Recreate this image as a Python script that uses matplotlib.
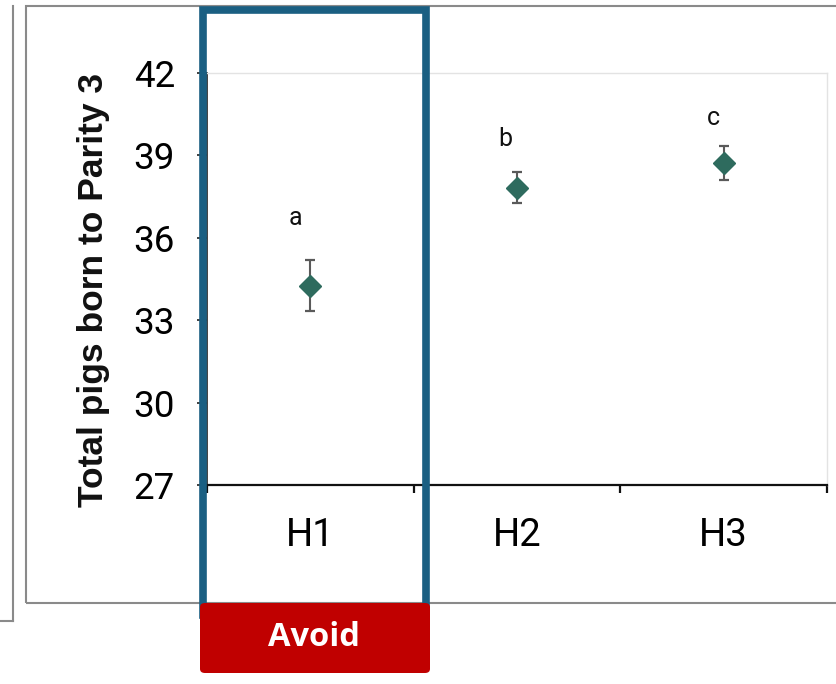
import matplotlib
matplotlib.use("Agg")
import matplotlib.pyplot as plt
from matplotlib.patches import Rectangle, FancyBboxPatch
from matplotlib.lines import Line2D

# ---- data ----
categories = ["H1", "H2", "H3"]
means = [34.25, 37.82, 38.72]
errors = [0.93, 0.57, 0.62]
letters = ["a", "b", "c"]
y_ticks = [27, 30, 33, 36, 39, 42]
y_label = "Total pigs born to Parity 3"
badge_text = "Avoid"

W, H = 837, 684
fig = plt.figure(figsize=(W / 100, H / 100), dpi=100)
fig.patch.set_facecolor("white")

def fx(px):
    return px / W

def fy(py):
    return 1 - py / H

# axes placement (pixels): x 207..827, y 73..485
ax = fig.add_axes([fx(207), fy(485), fx(827) - fx(207), fy(73) - fy(485)])
ax.set_xlim(0.5, 3.5)
ax.set_ylim(27, 42)

xs = list(range(1, len(categories) + 1))
ax.errorbar(xs, means, yerr=errors, fmt="none", ecolor="#5a5a5a",
            elinewidth=1.5, capsize=3.3, capthick=1.6, zorder=3)
ax.plot(xs, means, linestyle="none", marker="D", markersize=10.7,
        color="#2e6b5e", markeredgecolor="#2e6b5e", zorder=4)

# significance letters (manual offsets above each point)
letter_dx = [-0.07, -0.055, -0.05]
letter_dy = [1.28, 0.94, 0.76]
for x, m, e, lt, dx, dy in zip(xs, means, errors, letters, letter_dx, letter_dy):
    ax.text(x + dx, m + e + dy, lt, ha="center", va="baseline",
            fontsize=18, family="Roboto", color="#111111", zorder=5)

# spines
for s in ["top", "right"]:
    ax.spines[s].set_color("#e3e3e3")
    ax.spines[s].set_linewidth(1.0)
ax.spines["left"].set_color("#222222")
ax.spines["left"].set_linewidth(1.2)
ax.spines["bottom"].set_color("#111111")
ax.spines["bottom"].set_linewidth(1.6)

ax.set_yticks(y_ticks)
ax.set_yticklabels([str(t) for t in y_ticks], family="Roboto", fontsize=26.5)
ax.tick_params(axis="y", direction="out", length=7, width=1.2, color="#222222", pad=16)

ax.set_xticks(xs)
ax.set_xticklabels(categories, family="Roboto", fontsize=27.5)
ax.set_xticks([0.5, 1.5, 2.5, 3.5], minor=True)
ax.tick_params(axis="x", which="major", length=0, pad=23)
ax.tick_params(axis="x", which="minor", direction="out", length=6, width=1.6, color="#111111")

# y label
fig.text(fx(94), fy(290), y_label, rotation=90, ha="center", va="center",
         fontsize=25.5, fontweight="bold", family="Liberation Sans", color="#111111")

# frames
frame_col = "#8a8a8a"
fig.add_artist(Rectangle((fx(26), fy(603)), fx(900) - fx(26), fy(6) - fy(603),
                         transform=fig.transFigure, fill=False,
                         edgecolor=frame_col, linewidth=1.5, zorder=1))
fig.add_artist(Line2D([fx(13), fx(13)], [fy(6), fy(621)], transform=fig.transFigure,
                      color=frame_col, linewidth=1.5, zorder=1))
fig.add_artist(Line2D([fx(-5), fx(13)], [fy(621), fy(621)], transform=fig.transFigure,
                      color=frame_col, linewidth=1.5, zorder=1))

# highlight rectangle around H1
fig.add_artist(Rectangle((fx(203), fy(615)), fx(426.3) - fx(203), fy(9.8) - fy(615),
                         transform=fig.transFigure, fill=False,
                         edgecolor="#1a5f82", linewidth=5.5, zorder=6))

# red badge
badge = FancyBboxPatch((fx(200), fy(673)), fx(430) - fx(200), fy(603) - fy(673),
                       boxstyle="round,pad=0,rounding_size=0.006",
                       transform=fig.transFigure, facecolor="#c00000",
                       edgecolor="none", zorder=7)
fig.add_artist(badge)
fig.text(fx(314), fy(637), badge_text, ha="center", va="center", color="white",
         fontsize=23.5, fontweight="bold", family="Open Sans", zorder=8)

fig.savefig("out.png", dpi=100)
